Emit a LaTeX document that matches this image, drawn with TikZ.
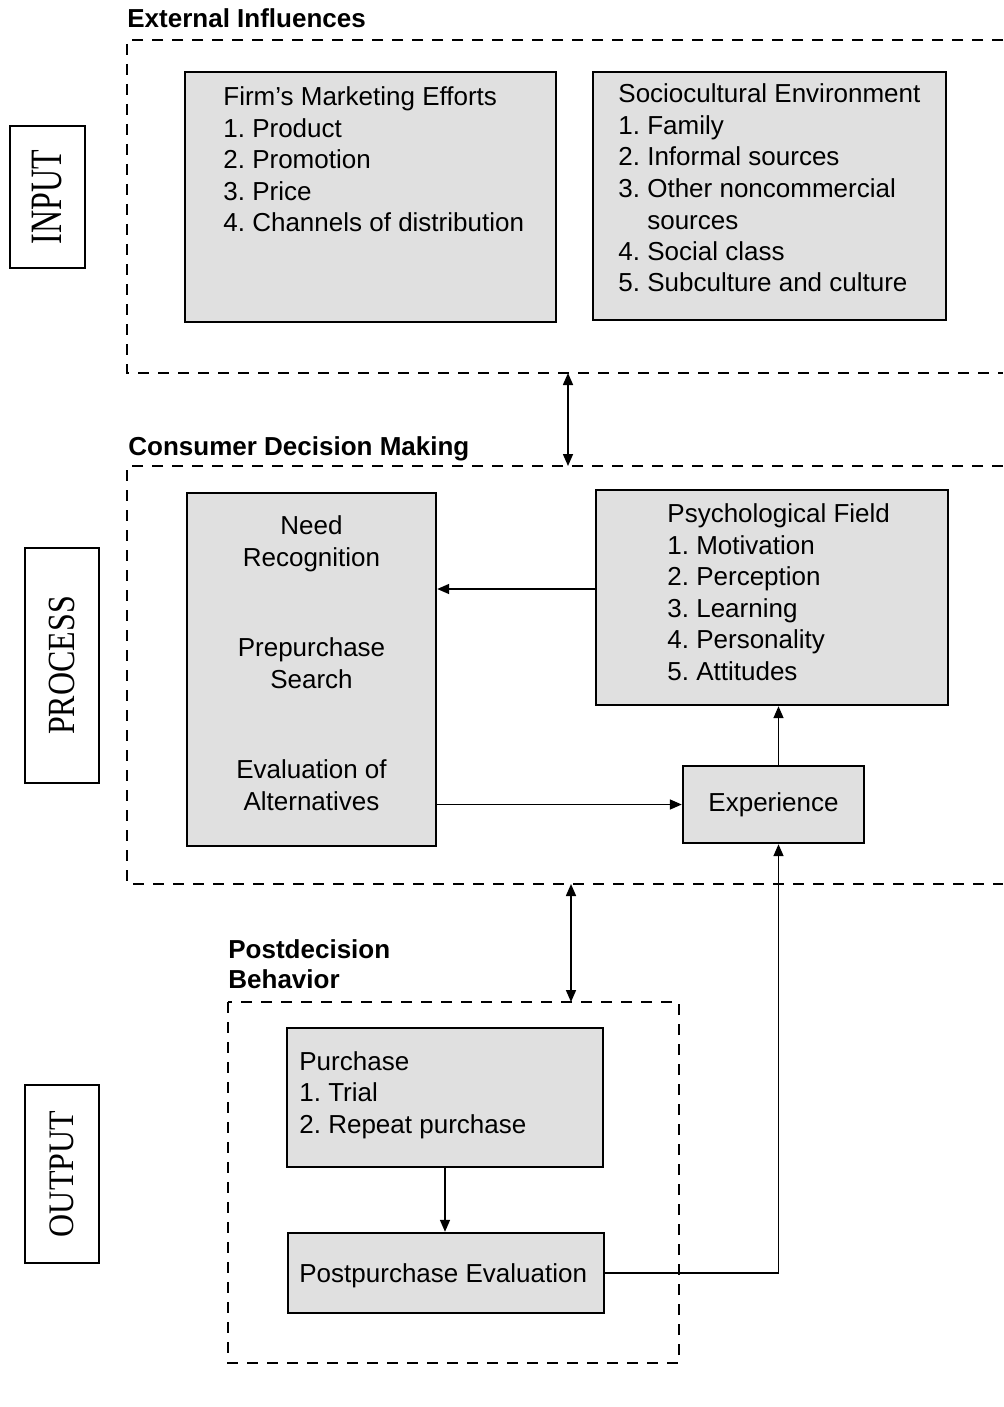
\documentclass[tikz,border=0pt]{standalone}
\usepackage{fontspec}
\setmainfont{Liberation Serif}
\setsansfont{Liberation Sans}
\usetikzlibrary{arrows.meta,fit}
\frenchspacing

\newcommand\boxfont{\sffamily\fontsize{13}{15.75}\selectfont}
\newcommand\headfont{\sffamily\bfseries\fontsize{13}{15}\selectfont}
\newcommand\stagefont{\rmfamily\fontsize{16}{18}\selectfont}

% text nodes are placed at the baseline of their last line
\tikzset{
  zone/.style={line width=0.9pt, dash pattern=on 5.5pt off 4.5pt},
  panel/.style={draw, line width=1.2pt, fill=gray!24, inner sep=0pt},
  paneltext/.style={anchor=base west, align=left, inner sep=0pt, font=\boxfont},
  midtext/.style={anchor=base, align=center, inner sep=0pt, font=\boxfont},
  heading/.style={anchor=base west, align=left, inner sep=0pt, font=\headfont},
  stage/.style={draw, line width=0.9pt, rotate=90, inner sep=0pt, font=\stagefont},
  flow/.style={-{Triangle[length=6pt,width=5pt]}, line width=0.8pt},
  twoway/.style={{Triangle[length=6pt,width=5pt]}-{Triangle[length=6pt,width=5pt]}, line width=0.8pt}
}

\begin{document}
\begin{tikzpicture}[x=0.5pt, y=-0.5pt]
  \useasboundingbox (0,0) rectangle (1003,1407);

  % stages on the left
  \node[stage, minimum width=71pt, minimum height=37.5pt] (input) at (47.5,197)
    {\scalebox{1}[1.4]{INPUT}};
  \node[stage, minimum width=117.5pt, minimum height=37pt] (process) at (62,665.5)
    {\scalebox{1}[1.2]{PROCESS}};
  \node[stage, minimum width=89pt, minimum height=37pt] (output) at (62,1174)
    {\scalebox{1}[1.12]{OUTPUT}};

  % dashed zones
  \draw[zone] (1003,40) -- (127,40) -- (127,373) -- (1003,373);
  \draw[zone] (1003,466) -- (127,466) -- (127,884) -- (1003,884);
  \draw[zone] (228,1002) rectangle (679,1363);
  \coordinate (extbot) at (568,373);
  \coordinate (cdmtop) at (568,466);
  \coordinate (cdmbot) at (571,884);
  \coordinate (posttop) at (571,1002);

  \node[heading] (exthead) at (127,28) {External Influences};
  \node[heading] (cdmhead) at (128,455) {Consumer Decision Making};
  \node[heading] (posthead) at (228,988) {Postdecision\\Behavior};

  % external influences
  \node[panel, fit={(185,72) (556,322)}] (firm) {};
  \node[paneltext] (firmtext) at (223,232)
    {Firm's Marketing Efforts\\1. Product\\2. Promotion\\3. Price\\4. Channels of distribution};
  \node[panel, fit={(593,72) (946,320)}] (socio) {};
  \node[paneltext] (sociotext) at (618,292)
    {Sociocultural Environment\\1. Family\\2. Informal sources\\3. Other noncommercial\\
     \phantom{3. }sources\\4. Social class\\5. Subculture and culture};

  % decision making
  \node[panel, fit={(187,493) (436,846)}] (needbox) {};
  \node[midtext] (need) at (311.5,566) {Need\\Recognition};
  \node[midtext] (search) at (311.5,688) {Prepurchase\\Search};
  \node[midtext] (evalalt) at (311.5,810) {Evaluation of\\Alternatives};
  \node[panel, fit={(596,490) (948,705)}] (psych) {};
  \node[paneltext] (psychtext) at (667,680)
    {Psychological Field\\1. Motivation\\2. Perception\\3. Learning\\4. Personality\\5. Attitudes};
  \node[panel, minimum width=90.5pt, minimum height=38.5pt, font=\boxfont] (exper)
    at (773.5,804.5) {Experience};

  % postdecision behavior
  \node[panel, fit={(287,1028) (603,1167)}] (purchase) {};
  \node[paneltext] (purchtext) at (299,1133) {Purchase\\1. Trial\\2. Repeat purchase};
  \node[panel, fit={(288,1233) (604,1313)}] (postev) {};
  \node[paneltext] (postevtext) at (299,1282) {Postpurchase Evaluation};

  % connectors
  \draw[twoway] (extbot) -- (cdmtop);
  \draw[twoway] (cdmbot) -- (posttop);
  \draw[flow] ([yshift=4.25pt]psych.west) -- ([yshift=4.25pt]psych.west -| needbox.east);
  \draw[flow] (needbox.east |- exper.west) -- (exper.west);
  \draw[flow] ([xshift=2.5pt]exper.north) -- ([xshift=2.5pt]exper.north |- psych.south);
  \draw[flow] (postev.east) -| ([xshift=2.5pt]exper.south);
  \draw[flow] (purchase.south) -- (purchase.south |- postev.north);
\end{tikzpicture}
\end{document}
